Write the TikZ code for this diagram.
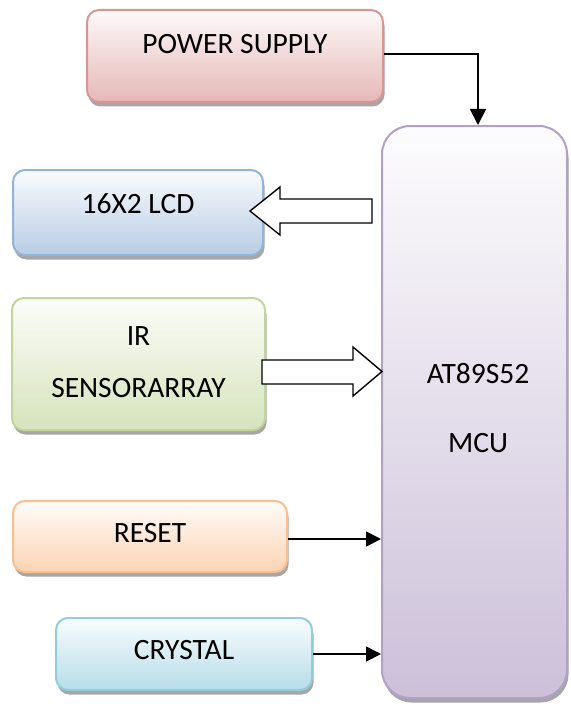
\documentclass[tikz,border=0pt]{standalone}
\usepackage{fontspec}
\setmainfont{Carlito}
\usetikzlibrary{arrows.meta,shadows}
\definecolor{pwB}{HTML}{D99594}\definecolor{pwF}{HTML}{E5B8B7}
\definecolor{lcB}{HTML}{95B3D7}\definecolor{lcF}{HTML}{B8CCE4}
\definecolor{irB}{HTML}{C2D69B}\definecolor{irF}{HTML}{D6E3BC}
\definecolor{rsB}{HTML}{FABF8F}\definecolor{rsF}{HTML}{FBD4B4}
\definecolor{crB}{HTML}{92CDDC}\definecolor{crF}{HTML}{B6DDE8}
\definecolor{mcB}{HTML}{B2A1C7}\definecolor{mcF}{HTML}{CCC0D9}
\begin{document}
\begin{tikzpicture}[x=1pt,y=-1pt,
  box/.style={draw, line width=2pt, rounded corners=12pt, inner sep=0pt,
    drop shadow={shadow xshift=1.5pt,shadow yshift=-4.5pt,fill=black,opacity=0.35}},
  lbl/.style={font=\fontsize{29.5}{35}\selectfont, inner sep=0pt, text=black},
  conn/.style={line width=1.8pt, -{Triangle[length=15pt,width=15pt]}},
  hollow/.style={draw, line width=1.4pt, fill=white, line join=miter}]
\useasboundingbox (0,0) rectangle (570,706);

\node[box, draw=pwB, top color=pwF!8!white, bottom color=pwF,
  minimum width=296pt, minimum height=92pt,
  label={[lbl,yshift=12pt]center:POWER SUPPLY}] (power) at (235,56) {};
\node[box, draw=lcB, top color=lcF!8!white, bottom color=lcF,
  minimum width=250pt, minimum height=85pt,
  label={[lbl,yshift=9pt]center:16X2 LCD}] (lcd) at (138,212.5) {};
\node[box, draw=irB, top color=irF!8!white, bottom color=irF,
  minimum width=253pt, minimum height=132pt,
  label={[lbl,align=center,font=\fontsize{29.5}{52}\selectfont,yshift=1.5pt]center:IR\\SENSORARRAY}] (ir) at (138.5,364) {};
\node[box, draw=rsB, top color=rsF!8!white, bottom color=rsF,
  minimum width=274pt, minimum height=71pt,
  label={[lbl,yshift=3.5pt]center:RESET}] (reset) at (150,536.5) {};
\node[box, draw=crB, top color=crF!8!white, bottom color=crF,
  minimum width=256pt, minimum height=72pt,
  label={[lbl,yshift=3.5pt]center:CRYSTAL}] (crystal) at (184,654) {};
\node[box, draw=mcB, rounded corners=28pt, top color=mcF!5!white, bottom color=mcF,
  minimum width=185pt, minimum height=572pt,
  label={[lbl,align=center,font=\fontsize{29.5}{69}\selectfont,xshift=3.5pt,yshift=3.5pt]center:AT89S52\\MCU}] (mcu) at (474.5,412) {};

% connectors
\coordinate (p1) at ([yshift=2pt]power.east);
\draw[line width=1.8pt, -{Triangle[length=16pt,width=16pt]}] (p1) -| ([xshift=3.5pt]mcu.north);
\coordinate (r1) at ([yshift=-2.5pt]reset.east);
\draw[conn] (r1) -- (r1 -| mcu.west);
\draw[conn] (crystal.east) -- (crystal.east -| mcu.west);

% hollow block arrows
\draw[hollow] (372,199) -- (280,199) -- (280,187) -- (250,211) -- (280,235) -- (280,223) -- (372,223) -- cycle;
\draw[hollow] (262,360) -- (353,360) -- (353,347) -- (382,371.5) -- (353,396) -- (353,384) -- (262,384) -- cycle;
\end{tikzpicture}
\end{document}
